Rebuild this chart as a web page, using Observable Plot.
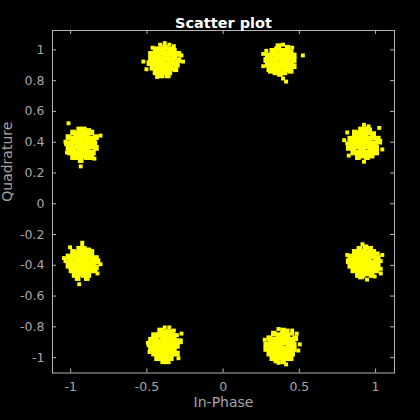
<!DOCTYPE html>
<html>
<head>
<meta charset="utf-8">
<script src="https://cdn.jsdelivr.net/npm/d3@7"></script>
<script src="https://cdn.jsdelivr.net/npm/@observablehq/plot@0.6"></script>
<style>
  html, body { margin: 0; padding: 0; background: #000; }
</style>
</head>
<body>
<div id="chart"></div>
<script>
// Cluster centres (In-Phase, Quadrature)
const centersX = [0.383, -0.383, 0.924, -0.924, -0.924, 0.924, -0.383, 0.383];
const centersY = [0.924, 0.924, 0.383, 0.383, -0.383, -0.383, -0.924, -0.924];

// Points around each centre, offsets in hundredths [dI, dQ]
const clusterA = [
[-2,10],[1,11],[4,9],[-6,7],[-3,8],[0,7],[3,7],[6,6],
[-9,4],[-6,5],[-3,4],[0,4],[3,5],[6,3],[8,4],
[-10,1],[-7,2],[-4,1],[-1,2],[2,1],[5,2],[8,1],
[-9,-2],[-6,-1],[-3,-2],[0,-1],[3,-2],[6,-2],[8,-3],
[-8,-5],[-5,-4],[-2,-5],[1,-4],[4,-5],[6,-6],
[-4,-7],[-1,-8],[2,-7],
[-5,0],[-1,-3],[2,-1],[4,0],[-2,3],[1,6],[-4,6],[5,-3],[-7,-2],[3,3],
[-12,5],[-12,-3],[-7,-6],[14,4],[1,-11],[3,-13],[7,9],[-10,7]];
const clusterB = [
[-3,11],[0,12],[3,11],[6,10],[-6,8],[-3,8],[0,9],[3,8],[6,7],
[-9,5],[-6,5],[-3,6],[0,5],[3,5],[6,4],[9,5],
[-9,2],[-6,2],[-3,2],[0,2],[3,1],[6,2],[9,1],
[-10,-1],[-7,-1],[-4,-1],[-1,-1],[2,-2],[5,-1],[8,-2],
[-8,-4],[-5,-4],[-2,-4],[1,-5],[4,-4],[7,-5],
[-6,-7],[-3,-7],[0,-7],[3,-7],[-2,-9],[2,-9],
[-4,4],[-1,7],[2,3],[5,0],[-7,0],[-1,0],[1,-3],[4,6],
[-14,0],[-12,-5],[12,0],[-5,-10],[11,4],[-8,9]];
const clusterC = [
[0,13],[3,12],[-2,10],[1,10],[4,10],[-6,8],[-3,7],[0,7],[3,8],[6,7],
[-9,4],[-6,5],[-3,4],[0,4],[3,4],[6,5],[9,4],
[-11,1],[-8,2],[-5,1],[-2,1],[1,2],[4,1],[7,1],[10,2],
[-10,-2],[-7,-2],[-4,-1],[-1,-2],[2,-1],[5,-2],[8,-2],
[-7,-5],[-4,-5],[-1,-4],[2,-5],[5,-5],[8,-5],
[-4,-8],[-1,-7],[2,-8],[5,-7],
[-5,3],[-2,-4],[1,5],[4,-3],[7,-1],[-8,-1],[2,0],[-1,8],
[-11,8],[-10,-7],[10,11],[-13,3],[12,-3],[0,-11]];
const clusterD = [
[-2,10],[1,10],[4,9],[-6,8],[-3,7],[0,7],[3,7],[6,8],
[-9,5],[-6,4],[-3,4],[0,5],[3,4],[6,4],[9,5],
[-10,1],[-7,1],[-4,2],[-1,1],[2,1],[5,2],[8,1],
[-9,-2],[-6,-2],[-3,-1],[0,-2],[3,-2],[6,-1],[9,-2],
[-8,-5],[-5,-5],[-2,-4],[1,-5],[4,-5],[7,-5],
[-6,-8],[-3,-8],[0,-7],[3,-8],[6,-8],[-1,-10],
[-4,5],[-1,3],[2,-3],[5,0],[-7,-3],[1,8],[-2,-6],[7,3],
[-9,14],[-10,-5],[-1,-14],[12,6],[-11,2],[8,-9]];
const clusterE = [
[0,11],[-2,9],[1,9],[4,8],[-6,7],[-3,6],[0,6],[3,6],[6,7],
[-9,4],[-6,4],[-3,3],[0,4],[3,3],[6,4],[9,3],
[-11,1],[-8,1],[-5,0],[-2,1],[1,1],[4,0],[7,1],[10,1],
[-9,-2],[-6,-2],[-3,-2],[0,-1],[3,-2],[6,-2],[9,-3],
[-7,-5],[-4,-5],[-1,-4],[2,-5],[5,-5],[8,-5],
[-5,-8],[-2,-7],[1,-8],[4,-8],[-3,-10],[3,-10],
[-4,2],[-1,-6],[2,2],[5,-3],[-7,-3],[1,-2],[-2,5],[7,-1],
[0,13],[-8,10],[-2,-14],[12,-1],[-12,3],[10,-7]];
const clusterF = [
[-1,12],[1,10],[-3,9],[4,9],[-6,7],[-3,6],[0,7],[3,6],[6,7],[9,6],
[-9,4],[-6,4],[-3,3],[0,4],[3,3],[6,4],[9,3],
[-10,1],[-7,1],[-4,0],[-1,1],[2,1],[5,0],[8,1],[11,1],
[-9,-2],[-6,-2],[-3,-2],[0,-1],[3,-2],[6,-2],[9,-2],
[-7,-5],[-4,-5],[-1,-4],[2,-5],[5,-5],[8,-5],
[-4,-8],[-1,-8],[2,-7],[5,-8],
[-5,2],[-2,-6],[1,5],[4,-3],[7,-1],[-8,-1],[1,-2],[11,-4],
[12,5],[11,-7],[2,-11],[-2,-9],[7,-9],[-11,5]];
const clusterG = [
[0,12],[3,12],[-3,10],[0,9],[3,9],[6,10],[-7,7],[-4,7],[-1,6],[2,6],[5,7],[8,7],
[-9,4],[-6,4],[-3,3],[0,4],[3,3],[6,4],[8,3],
[-10,1],[-7,1],[-4,0],[-1,1],[2,1],[5,0],[8,0],
[-9,-2],[-6,-2],[-3,-2],[0,-2],[3,-2],[6,-3],
[-7,-5],[-4,-5],[-1,-5],[2,-4],[5,-5],
[-5,-8],[-2,-8],[1,-7],[4,-8],[-1,-10],[2,-10],
[-5,2],[-2,-6],[1,5],[4,-3],[-8,-1],[1,-2],[-2,8],[6,1],
[11,8],[-10,-4],[9,-8],[8,-5],[-11,2],[10,3]];
const clusterH = [
[-2,11],[1,10],[4,10],[7,10],[-5,8],[-2,7],[1,7],[4,7],[7,8],
[-8,5],[-5,4],[-2,4],[1,5],[4,4],[7,4],[9,5],
[-10,1],[-7,2],[-4,1],[-1,1],[2,2],[5,1],[8,1],
[-10,-2],[-7,-2],[-4,-2],[-1,-1],[2,-2],[5,-2],[8,-2],
[-8,-5],[-5,-5],[-2,-4],[1,-5],[4,-5],[7,-5],
[-6,-8],[-3,-8],[0,-7],[3,-8],[6,-8],[-2,-11],[1,-10],
[-6,2],[-3,-6],[1,-2],[4,-3],[-1,4],[2,8],[6,-1],[-8,-1],
[12,1],[11,-3],[-4,-10],[10,8],[3,-12],[-11,4]];

const xTicks = [-1, -0.5, 0, 0.5, 1];
const yTicks = [-1, -0.8, -0.6, -0.4, -0.2, 0, 0.2, 0.4, 0.6, 0.8, 1];

const clusters = [clusterA, clusterB, clusterC, clusterD, clusterE, clusterF, clusterG, clusterH];
const points = clusters.flatMap((c, i) =>
  c.map(([dx, dy]) => ({I: centersX[i] + dx / 100, Q: centersY[i] + dy / 100, far: Math.hypot(dx, dy) > 10.5})));

const W = 420, H = 420, mL = 52, mR = 26, mT = 30, mB = 47.5;
const innerW = W - mL - mR, innerH = H - mT - mB;
const axisColor = "#b4b4b4", labelColor = "#a6a6a6";
const fmt = d => String(d);

const chart = Plot.plot({
  width: W, height: H,
  marginLeft: mL, marginRight: mR, marginTop: mT, marginBottom: mB,
  style: {background: "#000", fontFamily: "DejaVu Sans, sans-serif", color: labelColor},
  x: {domain: [-1.119, 1.124]},
  y: {domain: [-1.10, 1.126]},
  marks: [
    Plot.dot(points, {filter: d => !d.far, x: "I", y: "Q", symbol: "square", r: 3.2, fill: "#ffff00", stroke: "none"}),
    Plot.dot(points, {filter: d => d.far, x: "I", y: "Q", symbol: "square", r: 2.2, fill: "#ffff00", stroke: "none"}),
    Plot.frame({stroke: axisColor, strokeWidth: 1}),
    Plot.tickX(xTicks, {x: d => d, insetTop: innerH - 4, stroke: axisColor}),
    Plot.tickX(xTicks, {x: d => d, insetBottom: innerH - 4, stroke: axisColor}),
    Plot.tickY(yTicks, {y: d => d, insetRight: innerW - 4, stroke: axisColor}),
    Plot.tickY(yTicks, {y: d => d, insetLeft: innerW - 4, stroke: axisColor}),
    Plot.axisX(xTicks, {tickSize: 0, tickPadding: 9, tickFormat: fmt, fontSize: 12.5, fill: labelColor, label: null}),
    Plot.axisY(yTicks, {tickSize: 0, tickPadding: 8, tickFormat: fmt, fontSize: 12.5, fill: labelColor, label: null}),
    Plot.text(["Scatter plot"], {frameAnchor: "top", dy: -12.7, text: d => d, fontSize: 14.5, fontWeight: "bold", fill: "#ffffff"}),
    Plot.text(["In-Phase"], {frameAnchor: "bottom", dy: 33.5, text: d => d, fontSize: 14, fill: labelColor}),
    Plot.text(["Quadrature"], {frameAnchor: "left", dx: -45.4, rotate: -90, text: d => d, fontSize: 14, fill: labelColor})
  ]
});
document.getElementById("chart").append(chart);
</script>
</body>
</html>
